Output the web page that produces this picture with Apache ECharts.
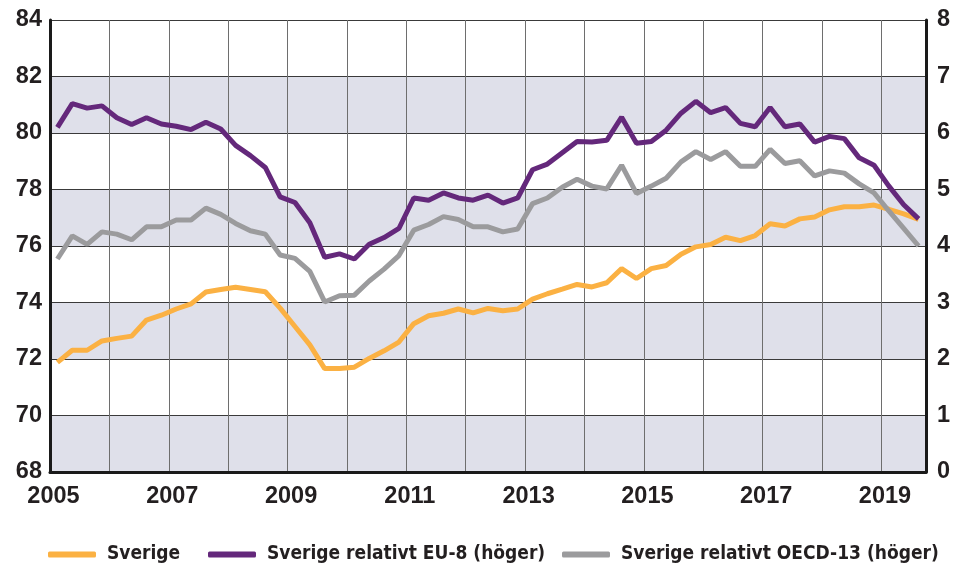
<!DOCTYPE html>
<html>
<head>
<meta charset="utf-8">
<script src="https://cdn.jsdelivr.net/npm/echarts@6/dist/echarts.min.js"></script>
<style>
  html, body { margin: 0; padding: 0; background: #fff; }
  #chart { width: 954px; height: 564px; }
</style>
</head>
<body>
<div id="chart"></div>
<script>
// kvartal 2005K1 .. 2019K3
const quarters = [];
for (let y = 2005; y <= 2019; y++) {
  for (let q = 1; q <= 4; q++) {
    if (y === 2019 && q === 4) break;
    quarters.push(y + 'K' + q);
  }
}

// Sverige (vänster axel)
const sverige = [
  71.88, 72.31, 72.31, 72.64,
  72.73, 72.81, 73.38, 73.55,
  73.77, 73.95, 74.37, 74.46,
  74.54, 74.46, 74.38, 73.80,
  73.15, 72.50, 71.66, 71.66,
  71.71, 72.02, 72.29, 72.60,
  73.25, 73.53, 73.62, 73.77,
  73.63, 73.79, 73.71, 73.77,
  74.12, 74.31, 74.47, 74.64,
  74.55, 74.70, 75.20, 74.85,
  75.20, 75.31, 75.71, 75.97,
  76.05, 76.31, 76.19, 76.37,
  76.79, 76.71, 76.96, 77.03,
  77.28, 77.39, 77.39, 77.45,
  77.30, 77.14, 76.94
];

// Sverige relativt EU-8 (höger axel)
const relEU8 = [
  6.10, 6.52, 6.44, 6.48,
  6.27, 6.15, 6.27, 6.16,
  6.12, 6.06, 6.19, 6.07,
  5.78, 5.60, 5.39, 4.87,
  4.77, 4.41, 3.80, 3.86,
  3.77, 4.03, 4.15, 4.31,
  4.85, 4.81, 4.94, 4.85,
  4.81, 4.90, 4.76, 4.85,
  5.35, 5.45, 5.65, 5.85,
  5.84, 5.87, 6.28, 5.82,
  5.85, 6.05, 6.35, 6.56,
  6.36, 6.45, 6.17, 6.11,
  6.45, 6.11, 6.16, 5.84,
  5.94, 5.90, 5.56, 5.43,
  5.06, 4.73, 4.48
];

// Sverige relativt OECD-13 (höger axel)
const relOECD13 = [
  3.77, 4.18, 4.03, 4.25,
  4.21, 4.11, 4.34, 4.34,
  4.46, 4.46, 4.67, 4.56,
  4.40, 4.27, 4.21, 3.84,
  3.78, 3.55, 3.01, 3.12,
  3.13, 3.38, 3.59, 3.83,
  4.28, 4.38, 4.52, 4.47,
  4.34, 4.34, 4.25, 4.30,
  4.75, 4.85, 5.04, 5.18,
  5.06, 5.01, 5.43, 4.93,
  5.06, 5.20, 5.49, 5.67,
  5.53, 5.67, 5.41, 5.41,
  5.71, 5.46, 5.51, 5.24,
  5.33, 5.29, 5.10, 4.94,
  4.62, 4.31, 4.00
];

const leftTicks = [68, 70, 72, 74, 76, 78, 80, 82, 84];
const rightTicks = [0, 1, 2, 3, 4, 5, 6, 7, 8];

// kvartal -> decimalår (mitt i kvartalet)
const qx = quarters.map(s => {
  const [y, q] = s.split('K').map(Number);
  return y + (q - 0.5) / 4;
});
const pairs = arr => arr.map((v, i) => [qx[i], v]);

const chart = echarts.init(document.getElementById('chart'));
const numFont = "'Liberation Sans', Arial, sans-serif";
const txtFont = "'Liberation Sans Narrow', 'DejaVu Sans Condensed', 'Liberation Sans', sans-serif";
const ink = '#231f20';

const legendBase = {
  orient: 'horizontal',
  top: 540,
  icon: 'roundRect',
  itemWidth: 48,
  itemHeight: 6,
  textStyle: { color: ink, fontFamily: txtFont, fontWeight: 'bold', fontSize: 19, padding: [0, 0, 0, 6] }
};

chart.setOption({
  backgroundColor: '#fff',
  animation: false,
  grid: { left: 50, right: 28, top: 20, bottom: 92 },
  legend: [
    Object.assign({ left: 43, data: ['Sverige'] }, legendBase),
    Object.assign({ left: 203, data: ['Sverige relativt EU-8 (höger)'] }, legendBase),
    Object.assign({ left: 557, data: ['Sverige relativt OECD-13 (höger)'] }, legendBase)
  ],
  xAxis: {
    type: 'value',
    min: 2005,
    max: 2019.75,
    interval: 1,
    axisLine: { show: true, onZero: false, lineStyle: { color: '#1a1a1a', width: 3 } },
    axisTick: { show: false },
    splitLine: { show: true, lineStyle: { color: '#6e6e6e', width: 1 } },
    axisLabel: {
      margin: 13,
      color: ink,
      fontFamily: numFont,
      fontWeight: 'bold',
      fontSize: 23.5,
      padding: [0, 0, 0, 7],
      showMaxLabel: false,
      formatter: v => (Number.isInteger(v) && v % 2 === 1) ? String(v) : ''
    }
  },
  yAxis: [
    {
      type: 'value',
      min: leftTicks[0],
      max: leftTicks[leftTicks.length - 1],
      interval: 2,
      axisLine: { show: true, lineStyle: { color: '#1a1a1a', width: 3 } },
      axisTick: { show: false },
      splitLine: { show: true, lineStyle: { color: '#3a3a3a', width: 1 } },
      splitArea: { show: true, areaStyle: { color: ['#dfe0ea', '#ffffff'] } },
      axisLabel: { margin: 8, color: ink, fontFamily: numFont, fontWeight: 'bold', fontSize: 23.5 }
    },
    {
      type: 'value',
      min: rightTicks[0],
      max: rightTicks[rightTicks.length - 1],
      interval: 1,
      position: 'right',
      axisLine: { show: true, lineStyle: { color: '#1a1a1a', width: 3 } },
      axisTick: { show: false },
      splitLine: { show: false },
      axisLabel: { margin: 11, color: ink, fontFamily: numFont, fontWeight: 'bold', fontSize: 23.5 }
    }
  ],
  series: [
    {
      name: 'Sverige',
      type: 'line',
      yAxisIndex: 0,
      symbol: 'none',
      color: '#fbb143',
      lineStyle: { width: 5, color: '#fbb143' },
      data: pairs(sverige)
    },
    {
      name: 'Sverige relativt EU-8 (höger)',
      type: 'line',
      yAxisIndex: 1,
      symbol: 'none',
      color: '#64287b',
      lineStyle: { width: 5, color: '#64287b' },
      data: pairs(relEU8)
    },
    {
      name: 'Sverige relativt OECD-13 (höger)',
      type: 'line',
      yAxisIndex: 1,
      symbol: 'none',
      color: '#9b9b9d',
      lineStyle: { width: 5, color: '#9b9b9d' },
      data: pairs(relOECD13)
    }
  ]
});
</script>
</body>
</html>
